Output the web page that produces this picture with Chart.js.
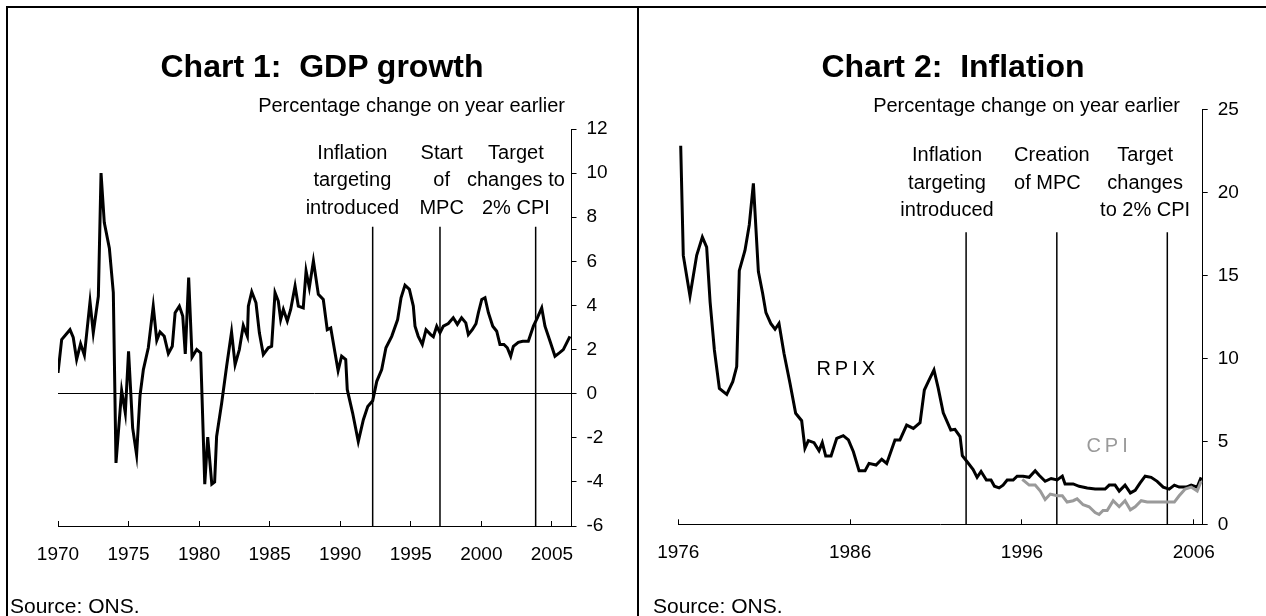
<!DOCTYPE html>
<html>
<head>
<meta charset="utf-8">
<script src="https://cdn.jsdelivr.net/npm/chart.js@4.4.1/dist/chart.umd.min.js"></script>
<style>
  html, body { margin: 0; padding: 0; background: #fff; }
  body { width: 1266px; height: 616px; position: relative; overflow: hidden;
         font-family: Arial, "Liberation Sans", sans-serif; color: #000; }
  .moldura { position: absolute; left: 6px; top: 6px; width: 1280px; height: 640px;
             border-left: 2px solid #000; border-top: 2px solid #000; }
  .divisoria { position: absolute; left: 637px; top: 6px; width: 2px; height: 620px; background: #000; }
  canvas { position: absolute; left: 0; top: 0; }
  .titulo { position: absolute; top: 46px; width: 638px; line-height: 40px; font-size: 32px;
            font-weight: bold; white-space: pre; text-align: center; }
  .unidade { position: absolute; top: 93px; line-height: 24px; font-size: 20px;
             white-space: nowrap; text-align: right; }
  .fonte { position: absolute; top: 594px; font-size: 21px; line-height: 24px; }
</style>
</head>
<body>
<div class="moldura"></div>
<div class="divisoria"></div>
<canvas id="graficoPib" width="1266" height="616"></canvas>
<canvas id="graficoInflacao" width="1266" height="616"></canvas>
<div class="titulo" style="left:3px">Chart 1:  GDP growth</div>
<div class="titulo" style="left:634px">Chart 2:  Inflation</div>
<div class="unidade" style="right:701px">Percentage change on year earlier</div>
<div class="unidade" style="right:86px">Percentage change on year earlier</div>
<div class="fonte" style="left:10px">Source: ONS.</div>
<div class="fonte" style="left:653px">Source: ONS.</div>

<script>
// Gráfico 1: crescimento do PIB (variação % sobre o ano anterior)
const gdpYears = [
  1970.00, 1970.26, 1970.85, 1971.08, 1971.32, 1971.60, 1971.87, 1972.27, 1972.50, 1972.86,
  1973.05, 1973.28, 1973.64, 1973.92, 1974.11, 1974.51, 1974.77, 1975.00, 1975.29, 1975.57,
  1975.81, 1976.05, 1976.40, 1976.75, 1977.00, 1977.23, 1977.53, 1977.82, 1978.10, 1978.30,
  1978.60, 1978.84, 1979.02, 1979.26, 1979.50, 1979.83, 1980.11, 1980.40, 1980.61, 1980.90,
  1981.10, 1981.24, 1981.60, 1981.95, 1982.30, 1982.55, 1982.85, 1983.13, 1983.42, 1983.49,
  1983.73, 1984.03, 1984.27, 1984.55, 1984.90, 1985.14, 1985.38, 1985.61, 1985.78, 1985.97,
  1986.25, 1986.49, 1986.80, 1987.03, 1987.38, 1987.58, 1987.81, 1988.10, 1988.45, 1988.80,
  1989.08, 1989.33, 1989.63, 1989.85, 1990.10, 1990.39, 1990.50, 1990.88, 1991.28, 1991.64,
  1991.95, 1992.30, 1992.59, 1992.94, 1993.24, 1993.65, 1994.07, 1994.31, 1994.59, 1994.90,
  1995.18, 1995.30, 1995.53, 1995.82, 1996.08, 1996.41, 1996.60, 1996.84, 1997.07, 1997.31,
  1997.66, 1998.01, 1998.30, 1998.60, 1998.90, 1999.08, 1999.36, 1999.62, 1999.79, 2000.03,
  2000.26, 2000.50, 2000.81, 2001.09, 2001.32, 2001.60, 2001.84, 2002.08, 2002.27, 2002.62,
  2002.93, 2003.33, 2003.69, 2003.97, 2004.28, 2004.51, 2004.87, 2005.22, 2005.53, 2005.81,
  2006.28
];
const gdpGrowth = [
  0.94, 2.45, 2.90, 2.55, 1.55, 2.26, 1.74, 4.17, 2.76, 4.42,
  10.0, 7.76, 6.60, 4.58, -3.14, 0.14, -0.88, 1.92, -1.55, -2.77,
  -0.10, 1.09, 2.08, 3.97, 2.42, 2.80, 2.60, 1.82, 2.15, 3.67,
  3.97, 3.52, 1.80, 5.26, 1.65, 2.00, 1.85, -4.10, -1.97, -4.10,
  -4.00, -1.94, -0.42, 1.24, 2.80, 1.32, 2.00, 3.09, 2.60, 3.97,
  4.62, 4.12, 2.76, 1.77, 2.08, 2.15, 4.58, 4.20, 3.36, 3.82,
  3.29, 3.82, 4.88, 3.97, 3.89, 5.56, 4.80, 6.02, 4.50, 4.27,
  2.90, 2.98, 1.85, 1.04, 1.70, 1.55, 0.18, -0.88, -2.17, -1.18,
  -0.58, -0.32, 0.56, 1.09, 2.08, 2.60, 3.36, 4.35, 4.92, 4.73,
  3.97, 3.06, 2.60, 2.23, 2.90, 2.68, 2.58, 3.06, 2.76, 3.06,
  3.18, 3.44, 3.14, 3.44, 3.21, 2.68, 2.90, 3.17, 3.67, 4.27,
  4.35, 3.67, 3.06, 2.83, 2.23, 2.23, 2.08, 1.70, 2.15, 2.33,
  2.38, 2.38, 3.06, 3.44, 3.89, 3.06, 2.38, 1.70, 1.85, 2.00,
  2.60
];
const gdpTicks = [1970, 1975, 1980, 1985, 1990, 1995, 2000, 2005];
const gdpEvents = [1992.3, 1997.07, 2003.85];

// Gráfico 2: inflação RPIX e CPI
const rpixYears = [
  1976.14, 1976.29, 1976.68, 1977.07, 1977.40, 1977.65, 1977.85, 1978.10, 1978.39, 1978.82,
  1979.17, 1979.40, 1979.55, 1979.88, 1980.13, 1980.37, 1980.66, 1980.91, 1981.10, 1981.38,
  1981.63, 1981.86, 1982.15, 1982.50, 1982.83, 1983.18, 1983.37, 1983.57, 1983.90, 1984.19,
  1984.38, 1984.58, 1984.89, 1985.22, 1985.60, 1985.90, 1986.19, 1986.52, 1986.87, 1987.10,
  1987.51, 1987.84, 1988.13, 1988.61, 1988.90, 1989.29, 1989.68, 1990.07, 1990.32, 1990.55,
  1990.88, 1991.13, 1991.42, 1991.86, 1992.10, 1992.40, 1992.53, 1992.81, 1993.16, 1993.39,
  1993.62, 1993.93, 1994.20, 1994.40, 1994.67, 1994.90, 1995.14, 1995.49, 1995.72, 1996.07,
  1996.42, 1996.77, 1997.00, 1997.35, 1997.70, 1998.05, 1998.35, 1998.51, 1998.98, 1999.33,
  1999.80, 2000.26, 2000.84, 2001.08, 2001.42, 2001.66, 2002.00, 2002.31, 2002.59, 2002.87,
  2003.17, 2003.52, 2003.87, 2004.22, 2004.57, 2004.87, 2005.15, 2005.57, 2005.85, 2006.20,
  2006.43
];
const rpixValues = [
  22.8, 16.2, 13.75, 16.2, 17.3, 16.7, 13.4, 10.5, 8.19, 7.83,
  8.59, 9.5, 15.28, 16.5, 18.03, 20.54, 15.22, 13.9, 12.75, 12.1,
  11.75, 12.1, 10.3, 8.5, 6.69, 6.24, 4.58, 5.04, 4.92, 4.43,
  4.92, 4.11, 4.11, 5.18, 5.34, 5.08, 4.37, 3.23, 3.23, 3.67,
  3.57, 3.92, 3.67, 5.08, 5.08, 5.98, 5.78, 6.12, 8.09, 8.59,
  9.30, 8.19, 6.72, 5.68, 5.72, 5.28, 4.13, 3.77, 3.30, 2.83,
  3.18, 2.67, 2.67, 2.29, 2.19, 2.36, 2.67, 2.67, 2.90, 2.90,
  2.83, 3.23, 2.95, 2.59, 2.76, 2.67, 2.90, 2.43, 2.43, 2.29,
  2.19, 2.12, 2.12, 2.36, 2.36, 2.00, 2.36, 1.89, 2.05, 2.48,
  2.90, 2.83, 2.59, 2.24, 2.12, 2.36, 2.24, 2.24, 2.36, 2.24,
  2.83
];
const cpiYears = [
  1996.02, 1996.42, 1996.77, 1997.07, 1997.35, 1997.65, 1998.05, 1998.35, 1998.63, 1998.98,
  1999.21, 1999.56, 1999.91, 2000.26, 2000.49, 2000.72, 2000.96, 2001.31, 2001.66, 2002.00,
  2002.31, 2002.59, 2002.94, 2003.29, 2003.75, 2004.22, 2004.87, 2005.15, 2005.50, 2005.85,
  2006.20, 2006.43
];
const cpiValues = [
  2.71, 2.36, 2.36, 2.00, 1.49, 1.82, 1.72, 1.72, 1.34, 1.42,
  1.53, 1.18, 1.06, 0.71, 0.59, 0.83, 0.83, 1.42, 1.06, 1.42,
  0.87, 1.06, 1.42, 1.34, 1.34, 1.34, 1.34, 1.72, 2.12, 2.24,
  2.00, 2.59
];
const inflTicks = [1976, 1986, 1996, 2006];
const inflEvents = [1992.75, 1998.03, 2004.46];

const FAMILIA = 'Arial, "Liberation Sans", sans-serif';

// Linhas verticais dos eventos e os textos, posicionados pelas escalas
const notasPlugin = {
  id: 'notas',
  beforeDatasetsDraw(chart, args, opts) {
    const { ctx, scales: { x, y } } = chart;
    ctx.save();
    ctx.strokeStyle = '#000';
    ctx.lineWidth = 1.5;
    opts.eventos.forEach(ano => {
      const px = x.getPixelForValue(ano);
      ctx.beginPath();
      ctx.moveTo(px, y.getPixelForValue(opts.topo));
      ctx.lineTo(px, y.bottom);
      ctx.stroke();
    });
    ctx.restore();
  },
  afterDatasetsDraw(chart, args, opts) {
    const { ctx, scales: { x, y } } = chart;
    ctx.save();
    ctx.textBaseline = 'middle';
    opts.textos.forEach(t => {
      ctx.font = (t.tamanho || 20) + 'px ' + FAMILIA;
      ctx.textAlign = t.align || 'center';
      ctx.fillStyle = t.cor || '#000';
      ctx.letterSpacing = t.espaco || '0px';
      const px = x.getPixelForValue(t.x);
      const py = y.getPixelForValue(t.y);
      t.linhas.forEach((linha, i) => ctx.fillText(linha, px, py + i * opts.entrelinha));
    });
    ctx.restore();
  }
};

function eixoX(min, max, ticks) {
  return {
    type: 'linear', min: min, max: max,
    afterFit: s => { s.height = 40; },
    afterBuildTicks: s => { s.ticks = ticks.map(v => ({ value: v })); },
    ticks: { font: { size: 19, family: FAMILIA }, color: '#000', padding: 22,
             maxRotation: 0, autoSkip: false, callback: v => String(v) },
    grid: { drawOnChartArea: false, tickLength: -5, tickColor: '#000', color: '#000' },
    border: { display: true, color: '#000', width: 1 }
  };
}

function eixoY(min, max, passo, linhaZero) {
  return {
    position: 'right', min: min, max: max,
    afterFit: s => { s.width = 60; },
    ticks: { stepSize: passo, font: { size: 19, family: FAMILIA }, color: '#000',
             padding: 10, callback: v => String(v) },
    grid: {
      drawOnChartArea: linhaZero,
      color: c => (c.tick && c.tick.value === 0) ? '#000' : 'rgba(0,0,0,0)',
      tickColor: '#000', tickLength: 5, lineWidth: 1
    },
    border: { display: true, color: '#000', width: 1 }
  };
}

function serie(anos, valores, cor) {
  return {
    data: anos.map((a, i) => ({ x: a, y: valores[i] })),
    borderColor: cor, borderWidth: 3, pointRadius: 0, fill: false, tension: 0
  };
}

function graficoPib() {
  const ctx = document.getElementById('graficoPib');
  new Chart(ctx, {
    type: 'line',
    data: { datasets: [serie(gdpYears, gdpGrowth, '#000')] },
    options: {
      responsive: false, animation: false, events: [],
      layout: { padding: { left: 58, top: 129, right: 634.5, bottom: 50 } },
      scales: { x: eixoX(1970, 2006.39, gdpTicks), y: eixoY(-6, 12, 2, true) },
      plugins: {
        legend: { display: false }, tooltip: { enabled: false },
        notas: {
          eventos: gdpEvents, topo: 7.57, entrelinha: 27.5,
          textos: [
            { x: 1990.86, y: 10.9, linhas: ['Inflation', 'targeting', 'introduced'] },
            { x: 1997.19, y: 10.9, linhas: ['Start', 'of', 'MPC'] },
            { x: 2002.45, y: 10.9, linhas: ['Target', 'changes to', '2% CPI'] }
          ]
        }
      }
    },
    plugins: [notasPlugin]
  });
}

function graficoInflacao() {
  const ctx = document.getElementById('graficoInflacao');
  new Chart(ctx, {
    type: 'line',
    data: { datasets: [serie(cpiYears, cpiValues, '#9a9a9a'), serie(rpixYears, rpixValues, '#000')] },
    options: {
      responsive: false, animation: false, events: [],
      layout: { padding: { left: 678.3, top: 109.3, right: 3.3, bottom: 51.7 } },
      scales: { x: eixoX(1976, 2006.52, inflTicks), y: eixoY(0, 25, 5, false) },
      plugins: {
        legend: { display: false }, tooltip: { enabled: false },
        notas: {
          eventos: inflEvents, topo: 17.6, entrelinha: 27.3,
          textos: [
            { x: 1991.64, y: 22.2, linhas: ['Inflation', 'targeting', 'introduced'] },
            { x: 1995.54, y: 22.2, align: 'left', linhas: ['Creation', 'of MPC'] },
            { x: 2003.17, y: 22.2, linhas: ['Target', 'changes', 'to 2% CPI'] },
            { x: 1985.86, y: 9.34, linhas: ['RPIX'], espaco: '4px' },
            { x: 2001.07, y: 4.67, linhas: ['CPI'], espaco: '4px', cor: '#9a9a9a' }
          ]
        }
      }
    },
    plugins: [notasPlugin]
  });
}

graficoPib();
graficoInflacao();
</script>
</body>
</html>
